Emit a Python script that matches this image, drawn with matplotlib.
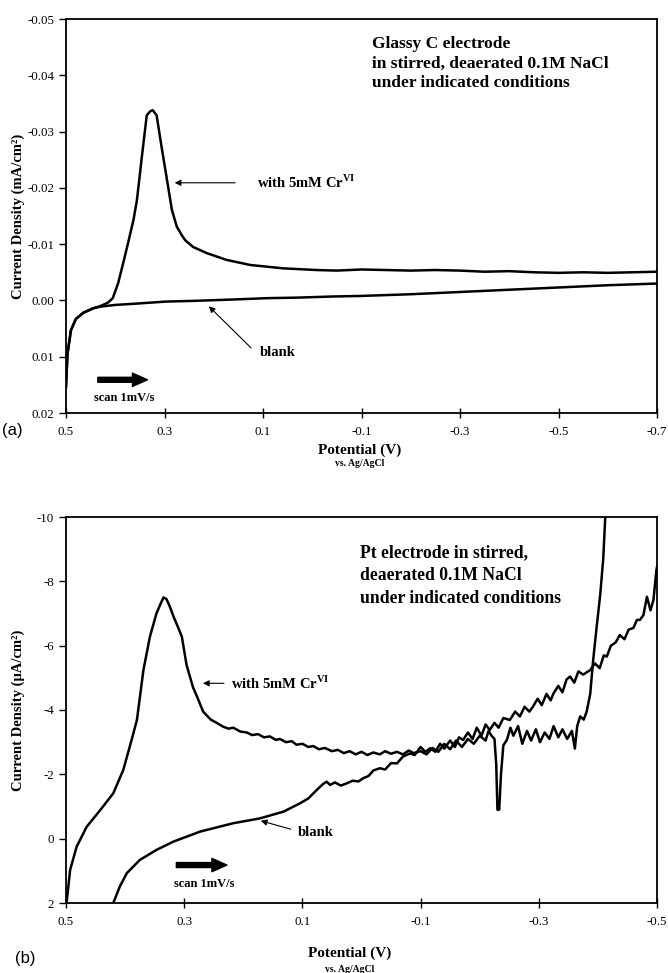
import matplotlib
matplotlib.use("Agg")
import matplotlib.pyplot as plt

plt.rcParams['font.family'] = ['Liberation Serif', 'DejaVu Serif']
plt.rcParams['mathtext.fontset'] = 'custom'
plt.rcParams['mathtext.rm'] = 'Liberation Serif'
plt.rcParams['mathtext.bf'] = 'Liberation Serif:bold'

# ---- (a) glassy carbon, mA/cm2 ----
a_cr_v = [0.500, 0.497, 0.490, 0.480, 0.465, 0.445, 0.430, 0.415, 0.405, 0.394,
          0.384, 0.374, 0.363, 0.356, 0.346, 0.336, 0.329, 0.324, 0.316, 0.306,
          0.296, 0.285, 0.275, 0.265, 0.258, 0.242, 0.214, 0.174, 0.126, 0.059,
          -0.009, -0.05, -0.10, -0.15, -0.20, -0.25, -0.30, -0.35, -0.40, -0.45,
          -0.50, -0.55, -0.60, -0.65, -0.70]
a_cr_i = [0.0153, 0.0095, 0.0053, 0.0033, 0.0022, 0.0014, 0.0010, 0.0004, -0.0004, -0.0031,
          -0.0066, -0.0102, -0.0143, -0.0178, -0.0255, -0.0329, -0.0336, -0.0338, -0.0329, -0.0273,
          -0.0220, -0.0161, -0.0131, -0.0116, -0.0107, -0.0095, -0.0084, -0.0072, -0.0063, -0.0057,
          -0.0054, -0.0053, -0.0055, -0.0054, -0.0053, -0.0054, -0.0053, -0.0051, -0.0052, -0.0050,
          -0.0049, -0.0050, -0.0049, -0.0050, -0.0051]

a_bl_v = [0.500, 0.497, 0.490, 0.480, 0.465, 0.445, 0.430, 0.400, 0.363, 0.330,
          0.296, 0.250, 0.214, 0.150, 0.092, 0.030, -0.043, -0.100, -0.200, -0.300,
          -0.400, -0.500, -0.600, -0.700]
a_bl_i = [0.0153, 0.0095, 0.0053, 0.0033, 0.0022, 0.0014, 0.0011, 0.0008, 0.0006, 0.0004,
          0.0002, 0.0001, 0.0000, -0.0002, -0.0004, -0.0005, -0.0007, -0.0008, -0.0011, -0.0015,
          -0.0019, -0.0023, -0.0027, -0.0030]

# ---- (b) platinum, uA/cm2 ----
b_cr_v = [0.499, 0.493, 0.482, 0.465, 0.442, 0.420, 0.403, 0.389, 0.380, 0.369,
          0.358, 0.347, 0.340, 0.335, 0.330, 0.324, 0.318, 0.311, 0.304, 0.296,
          0.285, 0.279, 0.268, 0.255, 0.245, 0.234, 0.225, 0.217, 0.205, 0.194,
          0.185, 0.175, 0.165, 0.155, 0.145, 0.138, 0.128, 0.118, 0.110, 0.100,
          0.090, 0.082, 0.072, 0.062, 0.050, 0.040, 0.030, 0.020, 0.010, 0.000,
          -0.010, -0.020, -0.031, -0.040, -0.050, -0.060, -0.070, -0.080, -0.088, -0.100,
          -0.110, -0.120, -0.130, -0.140, -0.150, -0.160, -0.170, -0.180, -0.190, -0.200,
          -0.210, -0.215, -0.220, -0.225, -0.228, -0.230, -0.233, -0.236, -0.240, -0.246,
          -0.252, -0.257, -0.265, -0.272, -0.280, -0.287, -0.295, -0.302, -0.310, -0.318,
          -0.325, -0.333, -0.340, -0.348, -0.356, -0.361, -0.365, -0.370, -0.376, -0.381,
          -0.387, -0.392, -0.398, -0.404, -0.409, -0.413, -0.416]
b_cr_i = [2.0, 0.97, 0.25, -0.37, -0.89, -1.41, -2.14, -3.07, -3.69, -5.24,
          -6.28, -7.0, -7.3, -7.5, -7.45, -7.2, -6.9, -6.6, -6.28, -5.4,
          -4.7, -4.45, -3.95, -3.7, -3.6, -3.48, -3.42, -3.45, -3.33, -3.30,
          -3.22, -3.25, -3.15, -3.18, -3.07, -3.10, -3.00, -3.03, -2.92, -2.95,
          -2.85, -2.88, -2.78, -2.82, -2.72, -2.76, -2.66, -2.72, -2.62, -2.70,
          -2.60, -2.68, -2.62, -2.72, -2.64, -2.70, -2.62, -2.74, -2.66, -2.72,
          -2.62, -2.82, -2.70, -2.95, -2.78, -3.05, -2.85, -3.10, -2.95, -3.20,
          -3.05, -3.35, -3.20, -3.10, -2.3, -0.9, -0.9, -2.0, -2.9, -3.07,
          -3.45, -3.20, -3.50, -2.95, -3.35, -3.05, -3.40, -3.00, -3.30, -3.10,
          -3.50, -3.15, -3.40, -3.10, -3.35, -2.80, -3.50, -3.80, -3.70, -3.95,
          -4.50, -5.55, -6.60, -7.60, -8.70, -10.2, -11.0]

b_bl_v = [0.420, 0.409, 0.397, 0.375, 0.347, 0.318, 0.273, 0.217, 0.172, 0.132,
          0.104, 0.090, 0.076, 0.065, 0.059, 0.053, 0.045, 0.035, 0.025, 0.015,
          0.005, -0.003, -0.012, -0.020, -0.031, -0.040, -0.050, -0.060, -0.070, -0.082,
          -0.090, -0.100, -0.108, -0.116, -0.125, -0.133, -0.140, -0.150, -0.158, -0.165,
          -0.172, -0.180, -0.188, -0.195, -0.203, -0.210, -0.217, -0.225, -0.232, -0.240,
          -0.251, -0.260, -0.268, -0.276, -0.284, -0.290, -0.298, -0.305, -0.313, -0.320,
          -0.325, -0.333, -0.340, -0.347, -0.353, -0.360, -0.367, -0.375, -0.387, -0.395,
          -0.403, -0.410, -0.415, -0.422, -0.430, -0.437, -0.445, -0.452, -0.460, -0.466,
          -0.471, -0.477, -0.483, -0.489, -0.494, -0.499, -0.500]
b_bl_i = [2.0, 1.49, 1.07, 0.66, 0.35, 0.09, -0.22, -0.48, -0.63, -0.84,
          -1.10, -1.25, -1.51, -1.70, -1.77, -1.67, -1.75, -1.65, -1.72, -1.80,
          -1.78, -1.88, -1.95, -2.12, -2.19, -2.15, -2.35, -2.34, -2.55, -2.65,
          -2.60, -2.85, -2.70, -2.81, -2.70, -2.95, -2.80, -3.05, -2.85, -3.15,
          -3.07, -3.30, -3.10, -3.45, -3.20, -3.55, -3.38, -3.60, -3.45, -3.75,
          -3.69, -3.95, -3.80, -4.10, -3.95, -4.10, -4.35, -4.15, -4.50, -4.30,
          -4.52, -4.75, -4.55, -4.95, -5.04, -4.85, -5.20, -5.10, -5.24, -5.45,
          -5.30, -5.70, -5.66, -6.00, -6.10, -6.33, -6.20, -6.50, -6.55, -6.80,
          -6.80, -6.95, -7.52, -7.10, -7.42, -8.35, -8.45]

a_xticks = [0.5, 0.3, 0.1, -0.1, -0.3, -0.5, -0.7]
a_yticks = [-0.05, -0.04, -0.03, -0.02, -0.01, 0.00, 0.01, 0.02]
b_xticks = [0.5, 0.3, 0.1, -0.1, -0.3, -0.5]
b_yticks = [-10, -8, -6, -4, -2, 0, 2]

fig = plt.figure(figsize=(6.68, 9.73), dpi=100)
W, H = 668.0, 973.0


def px_axes(left, top, right, bottom):
    return fig.add_axes([left / W, 1 - bottom / H, (right - left) / W, (bottom - top) / H])


def style(ax, xt, yt, xlabels, ylabels):
    ax.set_xticks(xt)
    ax.set_xticklabels(xlabels)
    ax.set_yticks(yt)
    ax.set_yticklabels(ylabels)
    ax.tick_params(axis='x', direction='inout', length=7, width=1, labelsize=9.3, pad=6)
    ax.tick_params(axis='y', direction='out', length=5, width=1, labelsize=9.3)
    for s in ax.spines.values():
        s.set_linewidth(1.3)


lw = 1.8
bold = dict(fontweight='bold')

# top panel
ax1 = px_axes(66, 19, 657, 413)
ax1.plot(a_cr_v, a_cr_i, color='black', lw=lw)
ax1.plot(a_bl_v, a_bl_i, color='black', lw=lw)
ax1.set_xlim(0.5, -0.7)
ax1.set_ylim(0.02, -0.05)
style(ax1, a_xticks, a_yticks,
      ['{:.1f}'.format(v) for v in a_xticks],
      ['{:.2f}'.format(v).replace('-0.00', '0.00') for v in a_yticks])

ax1.text(-0.121, -0.0470, 'Glassy C electrode\nin stirred, deaerated 0.1M NaCl\nunder indicated conditions',
         fontsize=12.5, va='top', ha='left', linespacing=1.3, **bold)
ax1.annotate('', xy=(0.285, -0.0209), xytext=(0.151, -0.0209),
             arrowprops=dict(arrowstyle='-|>', lw=0.8, color='black', mutation_scale=9))
ax1.text(0.112, -0.0209, r'with 5mM Cr$^{\mathbf{VI}}$', fontsize=10.5, va='center', ha='left', **bold)
ax1.annotate('', xy=(0.214, 0.0007), xytext=(0.120, 0.0088),
             arrowprops=dict(arrowstyle='-|>', lw=0.8, color='black', mutation_scale=9))
ax1.text(0.106, 0.0092, 'blank', fontsize=10.5, va='center', ha='left', **bold)
ax1.annotate('', xy=(0.329, 0.0141), xytext=(0.441, 0.0141),
             arrowprops=dict(arrowstyle='simple,head_length=0.9,head_width=0.8,tail_width=0.3',
                             color='black', mutation_scale=12))
ax1.text(0.382, 0.0173, 'scan 1mV/s', fontsize=9, va='center', ha='center', **bold)

fig.text(360 / W, 1 - 450 / H, 'Potential (V)', fontsize=11, ha='center', va='center', **bold)
fig.text(360 / W, 1 - 463 / H, 'vs. Ag/AgCl', fontsize=7, ha='center', va='center', **bold)
fig.text(18 / W, 1 - 216 / H, 'Current Density (mA/cm²)', fontsize=10.5, rotation=90,
         ha='center', va='center', **bold)
fig.text(2 / W, 1 - 430 / H, '(a)', fontsize=12, family='Liberation Sans', ha='left', va='center')

# bottom panel
ax2 = px_axes(66, 517, 657, 903)
ax2.plot(b_cr_v, b_cr_i, color='black', lw=lw)
ax2.plot(b_bl_v, b_bl_i, color='black', lw=lw)
ax2.set_xlim(0.5, -0.5)
ax2.set_ylim(2, -10)
style(ax2, b_xticks, b_yticks,
      ['{:.1f}'.format(v) for v in b_xticks],
      ['{:d}'.format(v) for v in b_yticks])

ax2.text(0.0025, -9.15, 'Pt electrode in stirred,\ndeaerated 0.1M NaCl\nunder indicated conditions',
         fontsize=12.7, va='top', ha='left', linespacing=1.45, **bold)
ax2.annotate('', xy=(0.273, -4.83), xytext=(0.228, -4.83),
             arrowprops=dict(arrowstyle='-|>', lw=0.8, color='black', mutation_scale=9))
ax2.text(0.220, -4.83, r'with 5mM Cr$^{\mathbf{VI}}$', fontsize=10.5, va='center', ha='left', **bold)
ax2.annotate('', xy=(0.175, -0.58), xytext=(0.115, -0.27),
             arrowprops=dict(arrowstyle='-|>', lw=0.8, color='black', mutation_scale=9))
ax2.text(0.107, -0.18, 'blank', fontsize=10.5, va='center', ha='left', **bold)
ax2.annotate('', xy=(0.223, 0.82), xytext=(0.318, 0.82),
             arrowprops=dict(arrowstyle='simple,head_length=0.9,head_width=0.8,tail_width=0.3',
                             color='black', mutation_scale=12))
ax2.text(0.266, 1.41, 'scan 1mV/s', fontsize=9, va='center', ha='center', **bold)

fig.text(350 / W, 1 - 953 / H, 'Potential (V)', fontsize=11, ha='center', va='center', **bold)
fig.text(350 / W, 1 - 970 / H, 'vs. Ag/AgCl', fontsize=7, ha='center', va='center', **bold)
fig.text(18 / W, 1 - 710 / H, 'Current Density (μA/cm²)', fontsize=10.5, rotation=90,
         ha='center', va='center', **bold)
fig.text(15 / W, 1 - 958 / H, '(b)', fontsize=12, family='Liberation Sans', ha='left', va='center')

fig.savefig('out.png', dpi=100)
